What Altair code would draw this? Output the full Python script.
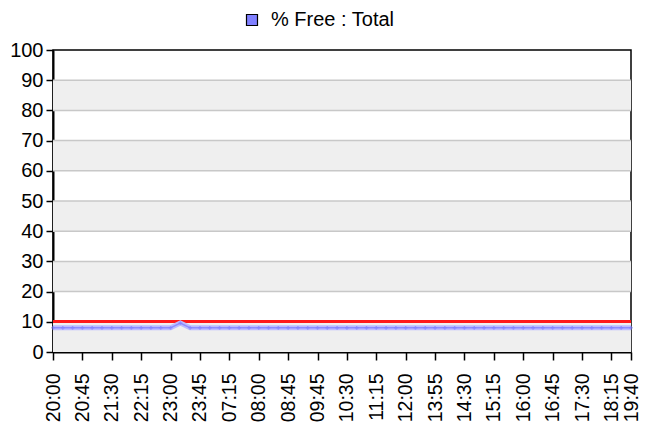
import altair as alt
import pandas as pd

# ---- data ----
tick_labels = ["20:00", "20:45", "21:30", "22:15", "23:00", "23:45", "07:15",
               "08:00", "08:45", "09:45", "10:30", "11:15", "12:00", "13:55",
               "14:30", "15:15", "16:00", "16:45", "17:30", "18:15", "19:40"]
tick_index = [0, 3, 6, 9, 12, 15, 18, 21, 24, 27, 30, 33, 36, 39, 42, 45,
              48, 51, 54, 57, 59]
free_total = [8.0, 8.0, 8.0, 8.0, 8.0, 8.0, 8.0, 8.0, 8.0, 8.0,
              8.0, 8.0, 8.0, 9.6, 8.0, 8.0, 8.0, 8.0, 8.0, 8.0,
              8.0, 8.0, 8.0, 8.0, 8.0, 8.0, 8.0, 8.0, 8.0, 8.0,
              8.0, 8.0, 8.0, 8.0, 8.0, 8.0, 8.0, 8.0, 8.0, 8.0,
              8.0, 8.0, 8.0, 8.0, 8.0, 8.0, 8.0, 8.0, 8.0, 8.0,
              8.0, 8.0, 8.0, 8.0, 8.0, 8.0, 8.0, 8.0, 8.0, 8.0]
series_name = "% Free : Total"
threshold = 10
band_lo = [0, 20, 40, 60, 80]
band_hi = [10, 30, 50, 70, 90]
grid_values = [10, 20, 30, 40, 50, 60, 70, 80, 90]
y_ticks = [0, 10, 20, 30, 40, 50, 60, 70, 80, 90, 100]

FONT = "Liberation Sans"
FS = 20

df = pd.DataFrame({"i": list(range(len(free_total))), "v": free_total,
                   "s": [series_name] * len(free_total)})
bands = pd.DataFrame({"lo": band_lo, "hi": band_hi})
grid = pd.DataFrame({"g": grid_values})

label_map = "{" + ",".join(f"'{k}':'{v}'" for k, v in zip(tick_index, tick_labels)) + "}"
label_expr = f"{label_map}[''+datum.value]"

xscale = alt.Scale(domain=[0, len(free_total) - 1], nice=False, zero=False)
yscale = alt.Scale(domain=[0, 100], nice=False)

x_axis = alt.Axis(values=tick_index, labelExpr=label_expr, labelAngle=270,
                  labelPadding=13, tickSize=8, title=None, labelFontSize=19.5)
y_axis = alt.Axis(values=y_ticks, tickSize=7, labelPadding=3, title=None)

band_layer = alt.Chart(bands).mark_rect(color="#efefef").encode(
    y=alt.Y("lo:Q", scale=yscale, axis=y_axis),
    y2="hi:Q",
)
grid_layer = alt.Chart(grid).mark_rule(color="#c8c8c8", strokeWidth=1.5).encode(
    y=alt.Y("g:Q", scale=yscale, axis=y_axis),
)
red_layer = alt.Chart(df).mark_rule(color="#ff1a1a", strokeWidth=2).encode(
    y=alt.datum(threshold, scale=yscale, axis=y_axis),
)
halo = alt.Chart(df).mark_line(color="#bcbcff", strokeWidth=5).encode(
    x=alt.X("i:Q", scale=xscale, axis=x_axis),
    y=alt.Y("v:Q", scale=yscale, axis=y_axis),
)
core = alt.Chart(df).mark_line(color="#8c8cff", strokeWidth=1.5).encode(
    x=alt.X("i:Q", scale=xscale, axis=x_axis),
    y=alt.Y("v:Q", scale=yscale, axis=y_axis),
)
pts = alt.Chart(df).mark_point(shape="cross", filled=True, size=14, opacity=0.6,
                               strokeWidth=0).encode(
    x=alt.X("i:Q", scale=xscale, axis=x_axis),
    y=alt.Y("v:Q", scale=yscale, axis=y_axis),
    fill=alt.Fill("s:N", scale=alt.Scale(domain=[series_name], range=["#8080ff"]),
                  legend=alt.Legend(title=None, orient="none", legendX=189,
                                    legendY=-40, symbolType="square",
                                    symbolSize=121, symbolStrokeColor="#000000",
                                    symbolStrokeWidth=1.2, symbolOpacity=1,
                                    labelFontSize=FS, labelFont=FONT,
                                    labelColor="#000000", labelOffset=9,
                                    padding=0)),
)

chart = alt.layer(band_layer, grid_layer, red_layer, halo, core, pts).properties(
    width=578, height=302,
    autosize=alt.AutoSizeParams(type="none"),
    padding={"left": 45, "top": 42, "right": 10, "bottom": 71},
).configure_view(
    stroke="#000000", strokeWidth=1.5, fill="#ffffff"
).configure_axis(
    labelFontSize=FS, labelFont=FONT, labelColor="#000000",
    tickColor="#000000", tickWidth=1.5, domainColor="#000000", domainWidth=2,
    grid=False, labelOverlap=False, labelFlush=False, labelBound=False,
)

chart.save("out.html", embed_options={"renderer": "svg", "actions": False})
